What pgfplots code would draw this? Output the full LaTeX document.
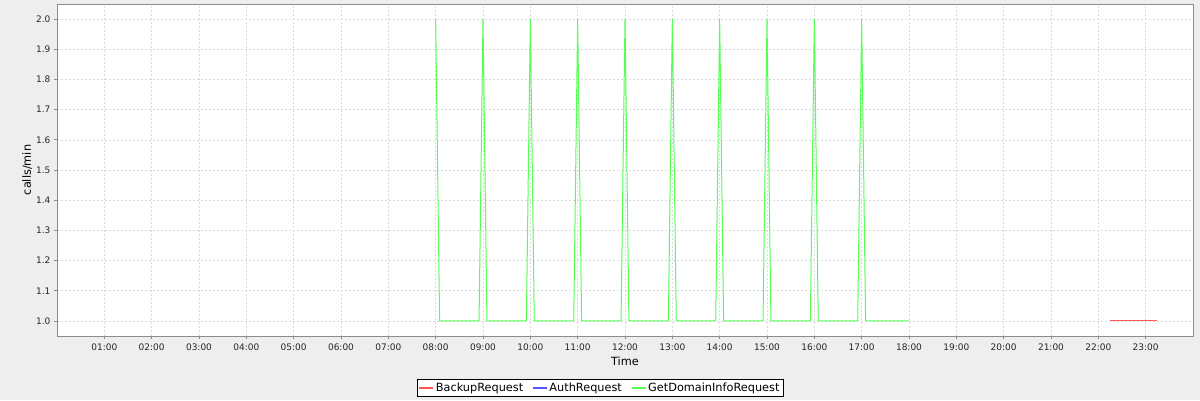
\documentclass[border=0pt]{standalone}
\usepackage{fontspec}
\setmainfont{DejaVu Sans}
\usepackage{pgfplots}
\pgfplotsset{compat=1.18}
\definecolor{bgc}{RGB}{238,238,238}
\definecolor{gridc}{RGB}{218,218,218}
\definecolor{framec}{RGB}{140,140,140}
\definecolor{jred}{RGB}{255,85,85}
\definecolor{jblue}{RGB}{85,85,255}
\definecolor{jgreen}{RGB}{85,255,85}
\begin{document}
\begin{tikzpicture}[x=1pt,y=1pt]
\fill[bgc] (0,0) rectangle (1200,400);
\useasboundingbox (0,0) rectangle (1200,400);
\begin{axis}[
  at={(57pt,64pt)}, anchor=south west,
  scale only axis, width=1136pt, height=332pt,
  xmin=0, xmax=24, ymin=0.95, ymax=2.05,
  axis background/.style={fill=white},
  axis line style={framec, line width=0.8pt},
  xtick={1,...,23},
  xticklabels={01:00,02:00,03:00,04:00,05:00,06:00,07:00,08:00,09:00,10:00,11:00,12:00,13:00,14:00,15:00,16:00,17:00,18:00,19:00,20:00,21:00,22:00,23:00},
  ytick={1.0,1.1,...,2.05},
  /pgf/number format/fixed, /pgf/number format/fixed zerofill,
  /pgf/number format/precision=1, /pgf/number format/assume math mode=true,
  tick label style={font=\fontsize{9}{11}\selectfont, text=black!85},
  xticklabel style={yshift=-1pt},
  tick align=outside, tick pos=left, major tick length=3pt,
  tick style={framec, line width=0.8pt},
  grid=major,
  major grid style={gridc, dash pattern=on 2pt off 2pt, line width=0.6pt},
  xlabel={Time}, ylabel={calls/min},
  label style={font=\fontsize{11.3}{13}\selectfont},
  xlabel style={at={(axis description cs:0.5,-0.0753)}, anchor=center},
  ylabel style={at={(axis description cs:-0.0264,0.5)}, anchor=center},
  legend style={at={(axis description cs:0.478,-0.1566)}, anchor=center,
    font=\fontsize{11.3}{13}\selectfont, inner sep=1.5pt,
    legend columns=3,
    /tikz/every even column/.append style={column sep=7pt}},
  legend image code/.code={\draw[#1,line width=1.3pt] (0pt,0pt) -- (14pt,0pt);},
  legend cell align=left,
]
\addplot[draw=jred, line width=1pt] coordinates {(22.25,1.0) (23.25,1.0)};
\addlegendentry{BackupRequest}
\addlegendimage{draw=jblue, line width=1pt}
\addlegendentry{AuthRequest}
\addplot[draw=jgreen, line width=1pt] coordinates {
(8.0,2) (8.0833,1) (8.9167,1)
(9.0,2) (9.0833,1) (9.9167,1)
(10.0,2) (10.0833,1) (10.9167,1)
(11.0,2) (11.0833,1) (11.9167,1)
(12.0,2) (12.0833,1) (12.9167,1)
(13.0,2) (13.0833,1) (13.9167,1)
(14.0,2) (14.0833,1) (14.9167,1)
(15.0,2) (15.0833,1) (15.9167,1)
(16.0,2) (16.0833,1) (16.9167,1)
(17.0,2) (17.0833,1) (18.0,1)
};
\addlegendentry{GetDomainInfoRequest}
\end{axis}
\end{tikzpicture}
\end{document}
